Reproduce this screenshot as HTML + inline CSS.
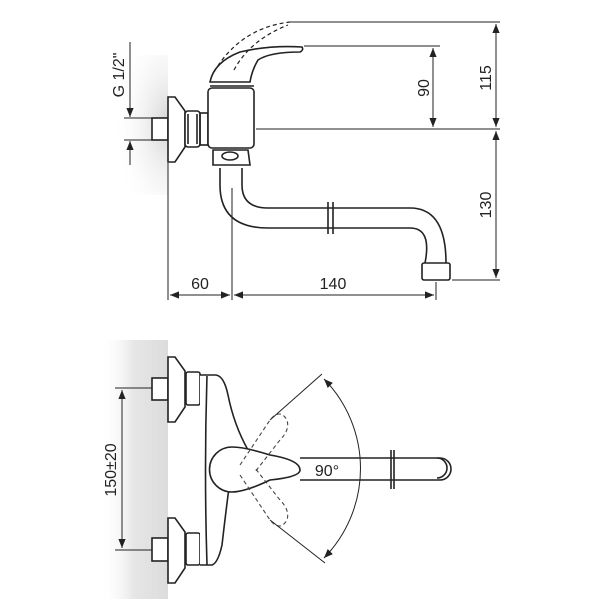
<!DOCTYPE html>
<html><head><style>
html,body{margin:0;padding:0;background:#fff;}
svg{display:block;font-family:"Liberation Sans",sans-serif;}
</style></head><body>
<svg width="600" height="599" viewBox="0 0 600 599" xmlns="http://www.w3.org/2000/svg">
<defs>
<linearGradient id="wg" x1="0" x2="1" y1="0" y2="0">
<stop offset="0" stop-color="#fff" stop-opacity="0"/><stop offset="0.5" stop-color="#e6e6e6"/><stop offset="1" stop-color="#dcdcdc"/></linearGradient>
<radialGradient id="wr" cx="1" cy="0.5" r="0.8"><stop offset="0" stop-color="#d4d4d4"/><stop offset="1" stop-color="#fff" stop-opacity="0"/></radialGradient>
<marker id="a" viewBox="0 0 10 10" refX="10" refY="5" markerWidth="9" markerHeight="9" orient="auto-start-reverse" markerUnits="userSpaceOnUse"><path d="M0,1 L10,5 L0,9 z" fill="#222"/></marker>
</defs>
<rect x="100" y="55" width="68" height="140" fill="url(#wr)"/>
<rect x="100" y="340" width="68" height="259" fill="url(#wg)"/>
<g fill="none" stroke="#222" stroke-width="1.6">
<rect x="152" y="118" width="16" height="22" fill="#fff"/>
<path d="M168,97 h7 l10,14 v36 l-10,15 h-7 z" fill="#fff"/>
<rect x="185" y="111" width="15" height="36" rx="3" fill="#fff"/>
<line x1="188" y1="114" x2="188" y2="144"/><line x1="197" y1="114" x2="197" y2="144"/>
<rect x="200" y="113" width="8" height="32"/>
<rect x="208" y="88" width="46" height="60" rx="4" fill="#fff"/>
<path d="M210,82 Q214,62 240,52 Q270,45 302,47 Q304,50 300,52 Q270,52 258,60 Q252,70 250,82 Z" fill="#fff"/>
<line x1="210" y1="86" x2="254" y2="86"/>
<path d="M214,72 Q240,28 290,22" stroke-dasharray="4,3" stroke-width="1.2"/>
<path d="M234,70 Q250,40 288,25" stroke-dasharray="4,3" stroke-width="1.2"/>
<path d="M213,150 h35 l2,15 h-37 z" fill="#fff"/>
<ellipse cx="230" cy="156" rx="8" ry="4"/>
<path d="M220,168 V185 Q220,228 268,228 H410 Q432,228 425,263"/>
<path d="M242,168 V185 Q242,208 268,208 H410 Q446,208 446,263"/>
<line x1="328" y1="202" x2="328" y2="234"/><line x1="333" y1="202" x2="333" y2="234"/>
<rect x="422" y="263" width="28" height="17" rx="2" fill="#fff"/>
</g>
<g fill="none" stroke="#222" stroke-width="1">
<line x1="168" y1="163" x2="168" y2="300"/>
<line x1="232" y1="188" x2="232" y2="300"/>
<line x1="436" y1="282" x2="436" y2="300"/>
<line x1="170" y1="295" x2="230" y2="295" marker-start="url(#a)" marker-end="url(#a)"/>
<line x1="234" y1="295" x2="434" y2="295" marker-start="url(#a)" marker-end="url(#a)"/>
<line x1="290" y1="22" x2="500" y2="22"/>
<line x1="304" y1="46" x2="440" y2="46"/>
<line x1="256" y1="129" x2="500" y2="129"/>
<line x1="452" y1="280" x2="500" y2="280"/>
<line x1="433" y1="48" x2="433" y2="127" marker-start="url(#a)" marker-end="url(#a)"/>
<line x1="496" y1="24" x2="496" y2="127" marker-start="url(#a)" marker-end="url(#a)"/>
<line x1="496" y1="131" x2="496" y2="278" marker-start="url(#a)" marker-end="url(#a)"/>
<line x1="130" y1="42" x2="130" y2="117" marker-end="url(#a)"/>
<line x1="130" y1="165" x2="130" y2="141" marker-end="url(#a)"/>
<line x1="124" y1="118" x2="155" y2="118"/><line x1="124" y1="140" x2="155" y2="140"/>
</g>
<g fill="#222" font-size="16">
<text x="200" y="289" text-anchor="middle">60</text>
<text x="333" y="289" text-anchor="middle">140</text>
<text transform="translate(429,88) rotate(-90)" text-anchor="middle">90</text>
<text transform="translate(491,78) rotate(-90)" text-anchor="middle">115</text>
<text transform="translate(491,205) rotate(-90)" text-anchor="middle">130</text>
<text transform="translate(124,75) rotate(-90)" text-anchor="middle">G 1/2"</text>
<text transform="translate(116,470) rotate(-90)" text-anchor="middle">150±20</text>
<text x="327" y="476" text-anchor="middle">90°</text>
</g>
<g fill="none" stroke="#222" stroke-width="1.6">
<rect x="152" y="378" width="16" height="22" fill="#fff"/>
<path d="M168,357 h7 l10,14 v36 l-10,15 h-7 z" fill="#fff"/>
<rect x="186" y="372" width="14" height="33" rx="2" fill="#fff"/>
<rect x="152" y="538" width="16" height="23" fill="#fff"/>
<path d="M168,518 h7 l10,14 v36 l-10,15 h-7 z" fill="#fff"/>
<rect x="186" y="533" width="14" height="32" rx="2" fill="#fff"/>
<path d="M200,375 H216 Q224,376 228,395 Q234,425 248,450 L230,480 Q226,510 222,545 Q218,563 212,565 H200" fill="#fff"/>
<path d="M207,376 Q204,470 207,565"/>
<path d="M300,458 H440 A11,11 0 0 1 440,480 H300"/>
<path d="M437,458 A10,10 0 0 1 437,478"/>
<line x1="391" y1="450" x2="391" y2="489"/><line x1="394" y1="450" x2="394" y2="489"/>
<path d="M232,447 Q245,447 270,455 Q300,460 300,470 Q300,477 270,480 Q245,492 232,492 A22,22 0 0 1 232,447 Z" fill="#fff"/>
</g>
<g fill="none" stroke="#444" stroke-width="1.1" stroke-dasharray="4,3">
<path d="M240,465 L270,420 Q280,408 287,420 Q290,430 280,440 L255,472"/>
<path d="M240,475 L270,520 Q280,532 287,520 Q290,510 280,500 L255,468"/>
</g>
<g fill="none" stroke="#222" stroke-width="1">
<line x1="270" y1="420" x2="322" y2="374"/>
<line x1="270" y1="520" x2="325" y2="563"/>
<path d="M324,379 A128,128 0 0 1 324,558" marker-start="url(#a)" marker-end="url(#a)"/>
<line x1="115" y1="388" x2="152" y2="388"/><line x1="115" y1="550" x2="152" y2="550"/>
<line x1="122" y1="390" x2="122" y2="548" marker-start="url(#a)" marker-end="url(#a)"/>
</g>
</svg>
</body></html>
